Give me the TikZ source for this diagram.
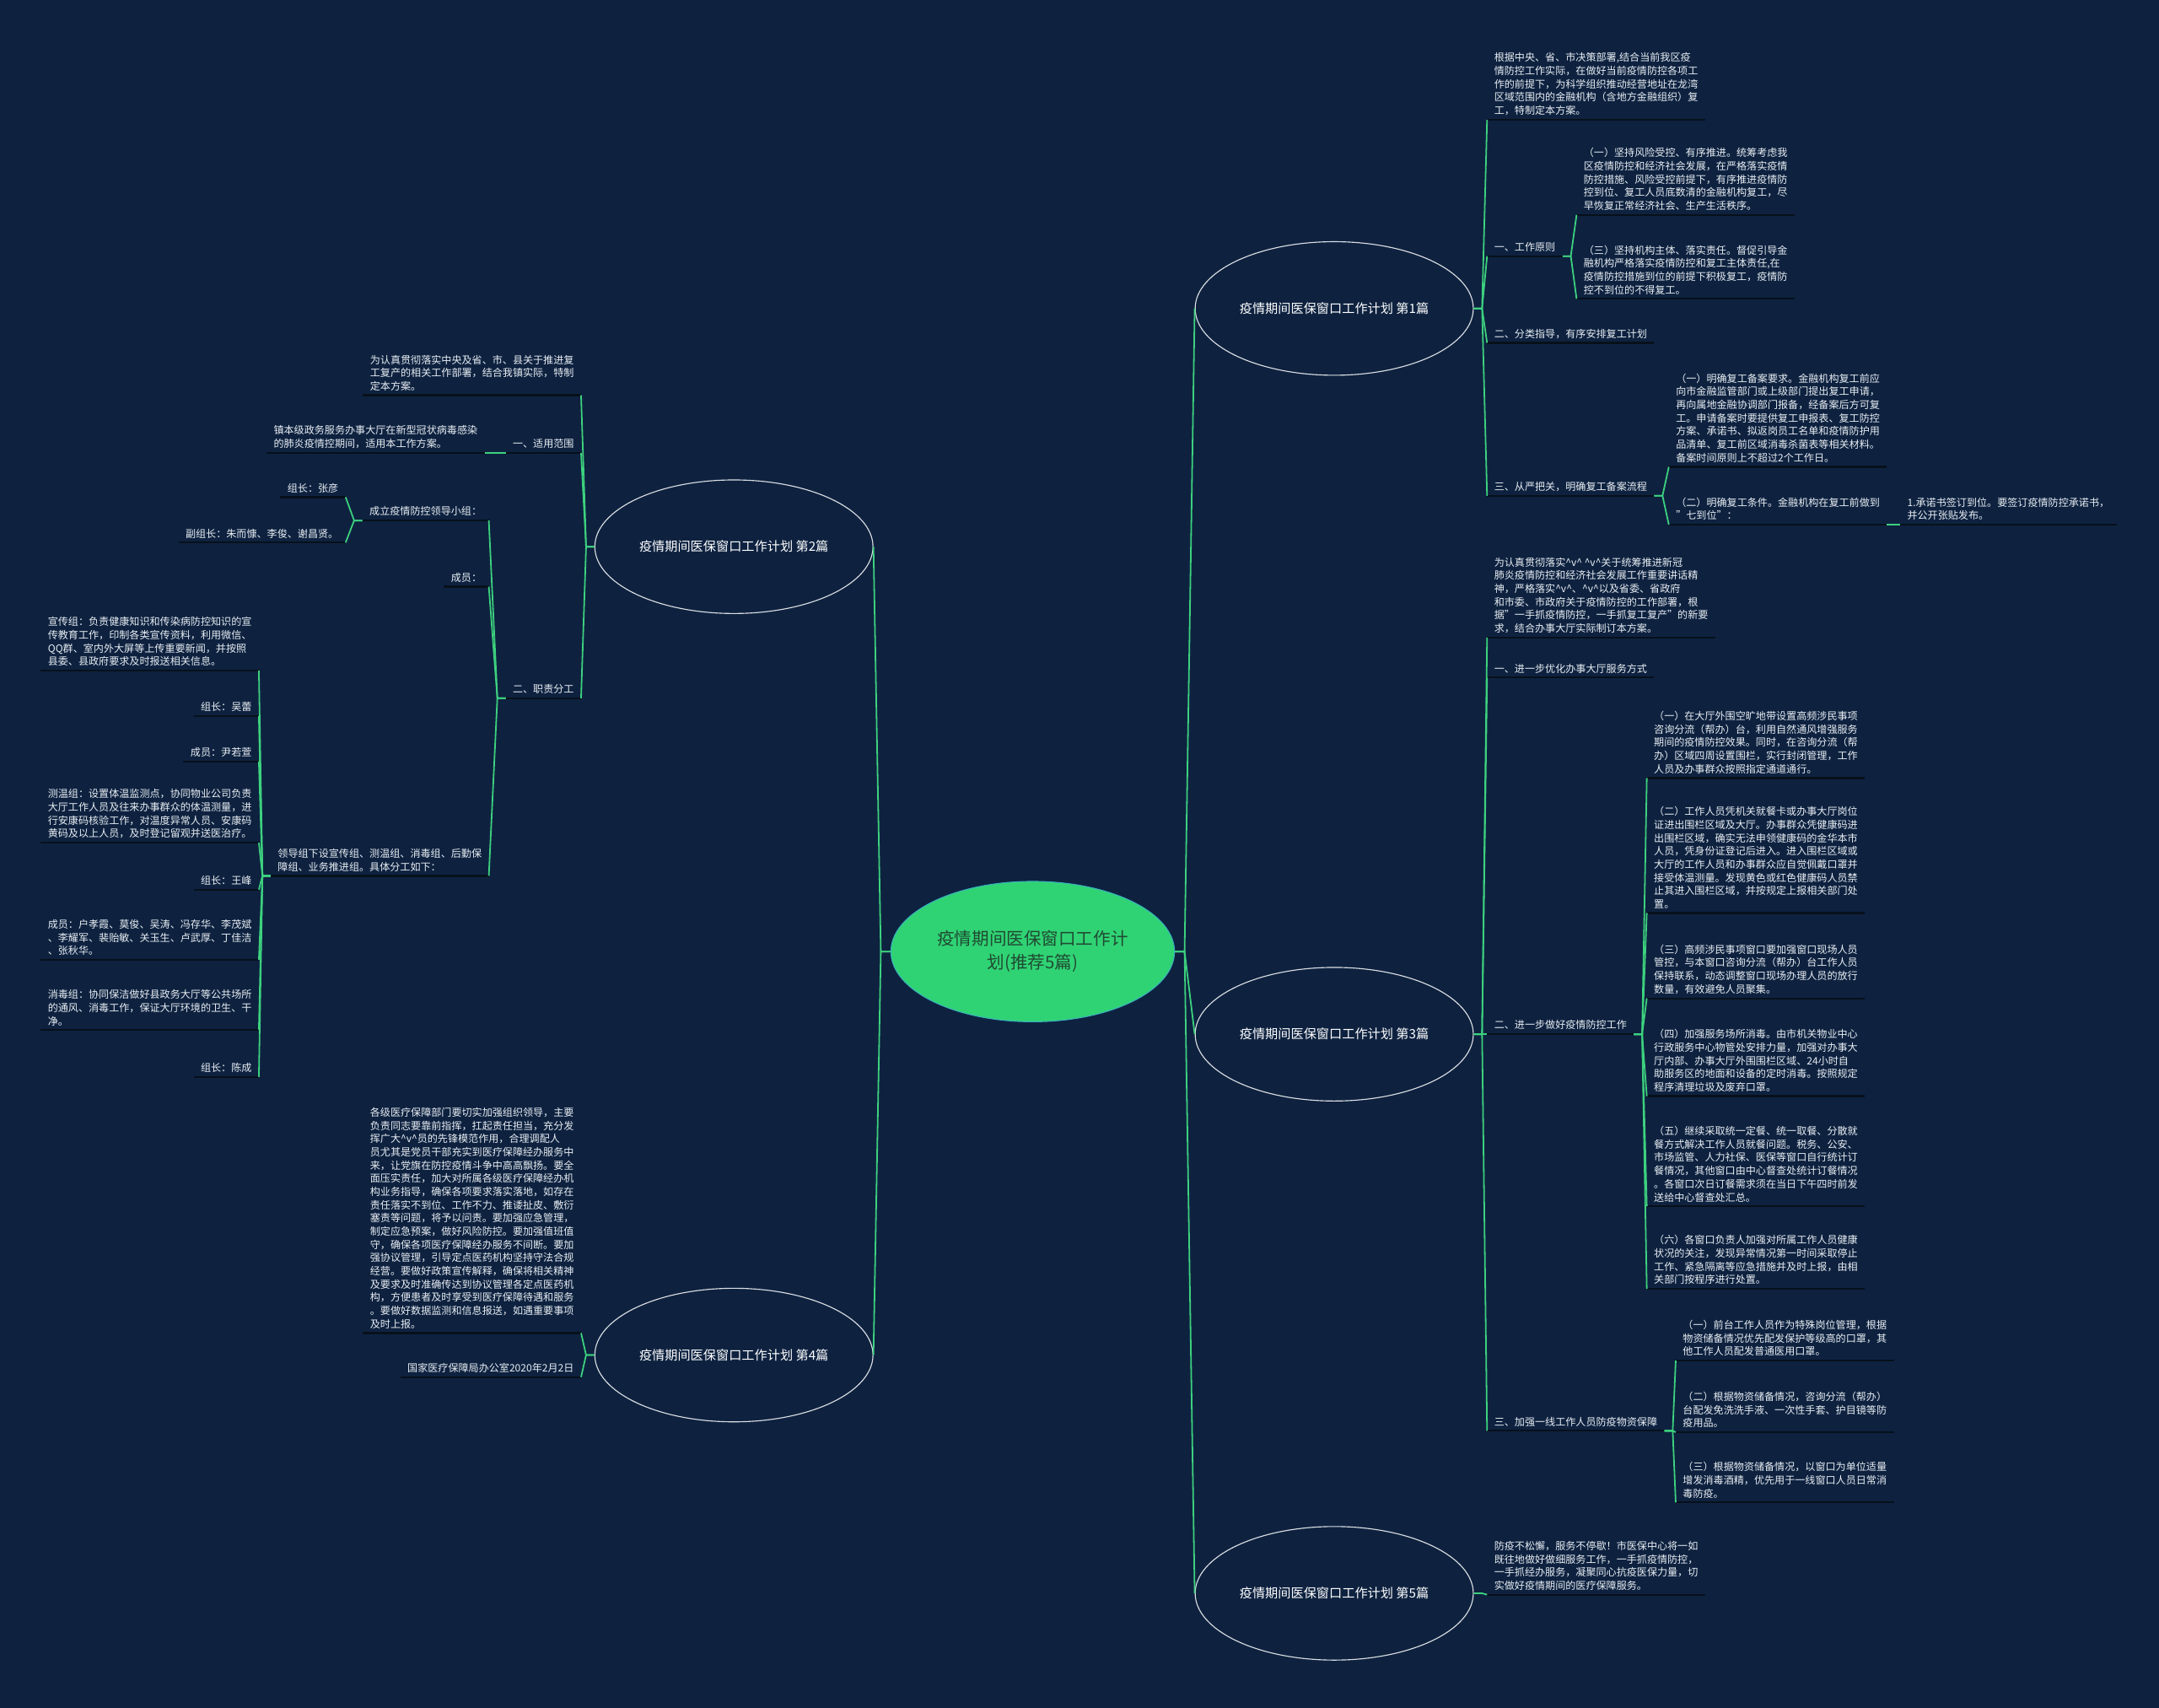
\documentclass[tikz,border=0pt]{standalone}
\usepackage{fontspec}
\setmainfont{Noto Sans CJK SC}
\usepackage{tikz}
\usetikzlibrary{shapes.geometric}
\definecolor{bgblue}{HTML}{0E2240}
\definecolor{linkgreen}{HTML}{3DD17E}
\definecolor{rootgreen}{HTML}{30D374}
\definecolor{rootedge}{HTML}{3AAFC0}
\definecolor{rootink}{HTML}{1F4A32}
\definecolor{ulink}{HTML}{07101A}
\definecolor{leafink}{HTML}{E9EEF3}
\newcommand{\vcar}{\textasciicircum v\textasciicircum}

\begin{document}
\begin{tikzpicture}[x=1pt, y=-1pt,
  root/.style={ellipse, fill=rootgreen, draw=rootedge, line width=0.6pt,
               minimum width=206pt, minimum height=102pt, inner sep=0pt,
               align=center, text=rootink, font=\fontsize{12.6}{17}\selectfont},
  topic/.style={ellipse, draw=white!85!bgblue, line width=0.7pt, fill=bgblue,
                minimum width=202pt, minimum height=97pt, inner sep=0pt,
                text=white, font=\fontsize{9.3}{11}\selectfont},
  uline/.style={draw=ulink, line width=1.4pt},
  leaf/.style={align=left, text=leafink, inner xsep=5pt, inner ysep=3pt,
               font=\fontsize{7.4}{9.6}\selectfont,
               append after command={(\tikzlastnode.south west) edge[uline] (\tikzlastnode.south east)}},
  link/.style={draw=linkgreen, line width=1.1pt}
]

% canvas
\fill[bgblue] (0,0) rectangle (1568,1240);
\useasboundingbox (0,0) rectangle (1568,1240);

% Column x-positions
\def\xR{1080}
\def\xL{422}

% Root and topics
\node[root] (root) at (750,691) {疫情期间医保窗口工作计\\划(推荐5篇)};
\node[topic] (p1) at (969,224)  {疫情期间医保窗口工作计划 第1篇};
\node[topic] (p3) at (969,751)  {疫情期间医保窗口工作计划 第3篇};
\node[topic] (p5) at (969,1157) {疫情期间医保窗口工作计划 第5篇};
\node[topic] (p2) at (533,397)  {疫情期间医保窗口工作计划 第2篇};
\node[topic] (p4) at (533,984)  {疫情期间医保窗口工作计划 第4篇};

% Topic 1
\node[leaf, anchor=south west] (p1t) at (\xR,87) {根据中央、省、市决策部署,结合当前我区疫\\情防控工作实际，在做好当前疫情防控各项工\\作的前提下，为科学组织推动经营地址在龙湾\\区域范围内的金融机构（含地方金融组织）复\\工，特制定本方案。};
\node[leaf, anchor=south west] (p1a) at (\xR,186) {一、工作原则};
\node[leaf, anchor=south west] (p1a1) at (1145,156) {（一）坚持风险受控、有序推进。统筹考虑我\\区疫情防控和经济社会发展，在严格落实疫情\\防控措施、风险受控前提下，有序推进疫情防\\控到位、复工人员底数清的金融机构复工，尽\\早恢复正常经济社会、生产生活秩序。};
\node[leaf, anchor=south west] (p1a2) at (1145,217) {（三）坚持机构主体、落实责任。督促引导金\\融机构严格落实疫情防控和复工主体责任,在\\疫情防控措施到位的前提下积极复工，疫情防\\控不到位的不得复工。};
\node[leaf, anchor=south west] (p1b) at (\xR,249) {二、分类指导，有序安排复工计划};
\node[leaf, anchor=south west] (p1c) at (\xR,360) {三、从严把关，明确复工备案流程};
\node[leaf, anchor=south west] (p1c1) at (1212,339) {（一）明确复工备案要求。金融机构复工前应\\向市金融监管部门或上级部门提出复工申请，\\再向属地金融协调部门报备，经备案后方可复\\工。申请备案时要提供复工申报表、复工防控\\方案、承诺书、拟返岗员工名单和疫情防护用\\品清单、复工前区域消毒杀菌表等相关材料。\\备案时间原则上不超过2个工作日。};
\node[leaf, anchor=south west] (p1c2) at (1212,381) {（二）明确复工条件。金融机构在复工前做到\\"七到位"：};
\node[leaf, anchor=south west] (p1c2a) at (1380,381) {1.承诺书签订到位。要签订疫情防控承诺书，\\并公开张贴发布。};

% Topic 3
\node[leaf, anchor=south west] (p3t) at (\xR,463) {为认真贯彻落实\vcar{} \vcar{}关于统筹推进新冠\\肺炎疫情防控和经济社会发展工作重要讲话精\\神，严格落实\vcar{}、\vcar{}以及省委、省政府\\和市委、市政府关于疫情防控的工作部署，根\\据"一手抓疫情防控，一手抓复工复产"的新要\\求，结合办事大厅实际制订本方案。};
\node[leaf, anchor=south west] (p3a) at (\xR,492) {一、进一步优化办事大厅服务方式};
\node[leaf, anchor=south west] (p3b) at (\xR,751) {二、进一步做好疫情防控工作};
\node[leaf, anchor=south west] (p3b1) at (1196,565) {（一）在大厅外围空旷地带设置高频涉民事项\\咨询分流（帮办）台，利用自然通风增强服务\\期间的疫情防控效果。同时，在咨询分流（帮\\办）区域四周设置围栏，实行封闭管理，工作\\人员及办事群众按照指定通道通行。};
\node[leaf, anchor=south west] (p3b2) at (1196,663) {（二）工作人员凭机关就餐卡或办事大厅岗位\\证进出围栏区域及大厅。办事群众凭健康码进\\出围栏区域，确实无法申领健康码的金华本市\\人员，凭身份证登记后进入。进入围栏区域或\\大厅的工作人员和办事群众应自觉佩戴口罩并\\接受体温测量。发现黄色或红色健康码人员禁\\止其进入围栏区域，并按规定上报相关部门处\\置。};
\node[leaf, anchor=south west] (p3b3) at (1196,725) {（三）高频涉民事项窗口要加强窗口现场人员\\管控，与本窗口咨询分流（帮办）台工作人员\\保持联系，动态调整窗口现场办理人员的放行\\数量，有效避免人员聚集。};
\node[leaf, anchor=south west] (p3b4) at (1196,796) {（四）加强服务场所消毒。由市机关物业中心\\行政服务中心物管处安排力量，加强对办事大\\厅内部、办事大厅外围围栏区域、24小时自\\助服务区的地面和设备的定时消毒。按照规定\\程序清理垃圾及废弃口罩。};
\node[leaf, anchor=south west] (p3b5) at (1196,876) {（五）继续采取统一定餐、统一取餐、分散就\\餐方式解决工作人员就餐问题。税务、公安、\\市场监管、人力社保、医保等窗口自行统计订\\餐情况，其他窗口由中心督查处统计订餐情况\\。各窗口次日订餐需求须在当日下午四时前发\\送给中心督查处汇总。};
\node[leaf, anchor=south west] (p3b6) at (1196,936) {（六）各窗口负责人加强对所属工作人员健康\\状况的关注，发现异常情况第一时间采取停止\\工作、紧急隔离等应急措施并及时上报，由相\\关部门按程序进行处置。};
\node[leaf, anchor=south west] (p3c) at (\xR,1039) {三、加强一线工作人员防疫物资保障};
\node[leaf, anchor=south west] (p3c1) at (1217,988) {（一）前台工作人员作为特殊岗位管理，根据\\物资储备情况优先配发保护等级高的口罩，其\\他工作人员配发普通医用口罩。};
\node[leaf, anchor=south west] (p3c2) at (1217,1040) {（二）根据物资储备情况，咨询分流（帮办）\\台配发免洗洗手液、一次性手套、护目镜等防\\疫用品。};
\node[leaf, anchor=south west] (p3c3) at (1217,1091) {（三）根据物资储备情况，以窗口为单位适量\\增发消毒酒精，优先用于一线窗口人员日常消\\毒防疫。};

% Topic 5
\node[leaf, anchor=south west] (p5t) at (\xR,1158) {防疫不松懈，服务不停歇！市医保中心将一如\\既往地做好做细服务工作，一手抓疫情防控，\\一手抓经办服务，凝聚同心抗疫医保力量，切\\实做好疫情期间的医疗保障服务。};

% Topic 2
\node[leaf, anchor=south east] (p2t) at (\xL,287) {为认真贯彻落实中央及省、市、县关于推进复\\工复产的相关工作部署，结合我镇实际，特制\\定本方案。};
\node[leaf, anchor=south east] (p2a) at (\xL,329) {一、适用范围};
\node[leaf, anchor=south east] (p2a1) at (352,329) {镇本级政务服务办事大厅在新型冠状病毒感染\\的肺炎疫情控期间，适用本工作方案。};
\node[leaf, anchor=south east] (p2b) at (\xL,507) {二、职责分工};
\node[leaf, anchor=south east] (p2b1) at (355,378) {成立疫情防控领导小组：};
\node[leaf, anchor=south east] (p2b1a) at (251,361) {组长：张彦};
\node[leaf, anchor=south east] (p2b1b) at (251,394) {副组长：朱而慷、李俊、谢昌贤。};
\node[leaf, anchor=south east] (p2b2) at (355,426) {成员：};
\node[leaf, anchor=south east] (p2b3) at (355,636) {领导组下设宣传组、测温组、消毒组、后勤保\\障组、业务推进组。具体分工如下：};
\node[leaf, anchor=south east] (p2b3a) at (188,487) {宣传组：负责健康知识和传染病防控知识的宣\\传教育工作，印制各类宣传资料，利用微信、\\QQ群、室内外大屏等上传重要新闻，并按照\\县委、县政府要求及时报送相关信息。};
\node[leaf, anchor=south east] (p2b3b) at (188,520) {组长：吴蕾};
\node[leaf, anchor=south east] (p2b3c) at (188,553) {成员：尹若萱};
\node[leaf, anchor=south east] (p2b3d) at (188,612) {测温组：设置体温监测点，协同物业公司负责\\大厅工作人员及往来办事群众的体温测量，进\\行安康码核验工作，对温度异常人员、安康码\\黄码及以上人员，及时登记留观并送医治疗。};
\node[leaf, anchor=south east] (p2b3e) at (188,646) {组长：王峰};
\node[leaf, anchor=south east] (p2b3f) at (188,697) {成员：户孝霞、莫俊、吴涛、冯存华、李茂斌\\、李耀军、裴贻敏、关玉生、卢武厚、丁佳洁\\、张秋华。};
\node[leaf, anchor=south east] (p2b3g) at (188,748) {消毒组：协同保洁做好县政务大厅等公共场所\\的通风、消毒工作，保证大厅环境的卫生、干\\净。};
\node[leaf, anchor=south east] (p2b3h) at (188,782) {组长：陈成};

% Topic 4
\node[leaf, anchor=south east] (p4t) at (\xL,968) {各级医疗保障部门要切实加强组织领导，主要\\负责同志要靠前指挥，扛起责任担当，充分发\\挥广大\vcar{}员的先锋模范作用，合理调配人\\员尤其是党员干部充实到医疗保障经办服务中\\来，让党旗在防控疫情斗争中高高飘扬。要全\\面压实责任，加大对所属各级医疗保障经办机\\构业务指导，确保各项要求落实落地，如存在\\责任落实不到位、工作不力、推诿扯皮、敷衍\\塞责等问题，将予以问责。要加强应急管理，\\制定应急预案，做好风险防控。要加强值班值\\守，确保各项医疗保障经办服务不间断。要加\\强协议管理，引导定点医药机构坚持守法合规\\经营。要做好政策宣传解释，确保将相关精神\\及要求及时准确传达到协议管理各定点医药机\\构，方便患者及时享受到医疗保障待遇和服务\\。要做好数据监测和信息报送，如遇重要事项\\及时上报。};
\node[leaf, anchor=south east] (p4a) at (\xL,1000) {国家医疗保障局办公室2020年2月2日};

% Connections root -> topics
\foreach \t in {p1,p3,p5}{
  \draw[link] (root.east) -- ++(7,0) -- (\t.west);
}
\foreach \t in {p2,p4}{
  \draw[link] (root.west) -- ++(-7,0) -- (\t.east);
}

% Connections right side
\foreach \c in {p1t,p1a,p1b,p1c}{
  \draw[link] (p1.east) -- ++(6,0) -- (\c.south west);
}
\foreach \c in {p1a1,p1a2}{
  \draw[link] (p1a.south east) -- ++(6,0) -- (\c.south west);
}
\foreach \c in {p1c1,p1c2}{
  \draw[link] (p1c.south east) -- ++(6,0) -- (\c.south west);
}
\draw[link] (p1c2.south east) -- (p1c2a.south west);
\foreach \c in {p3t,p3a,p3b,p3c}{
  \draw[link] (p3.east) -- ++(6,0) -- (\c.south west);
}
\foreach \c in {p3b1,p3b2,p3b3,p3b4,p3b5,p3b6}{
  \draw[link] (p3b.south east) -- ++(6,0) -- (\c.south west);
}
\foreach \c in {p3c1,p3c2,p3c3}{
  \draw[link] (p3c.south east) -- ++(6,0) -- (\c.south west);
}
\draw[link] (p5.east) -- ++(6,0) -- (p5t.south west);

% Connections left side
\foreach \c in {p2t,p2a,p2b}{
  \draw[link] (p2.west) -- ++(-6,0) -- (\c.south east);
}
\draw[link] (p2a.south west) -- (p2a1.south east);
\foreach \c in {p2b1,p2b2,p2b3}{
  \draw[link] (p2b.south west) -- ++(-6,0) -- (\c.south east);
}
\foreach \c in {p2b1a,p2b1b}{
  \draw[link] (p2b1.south west) -- ++(-6,0) -- (\c.south east);
}
\foreach \c in {p2b3a,p2b3b,p2b3c,p2b3d,p2b3e,p2b3f,p2b3g,p2b3h}{
  \draw[link] (p2b3.south west) -- ++(-6,0) -- (\c.south east);
}
\foreach \c in {p4t,p4a}{
  \draw[link] (p4.west) -- ++(-6,0) -- (\c.south east);
}

\end{tikzpicture}
\end{document}
